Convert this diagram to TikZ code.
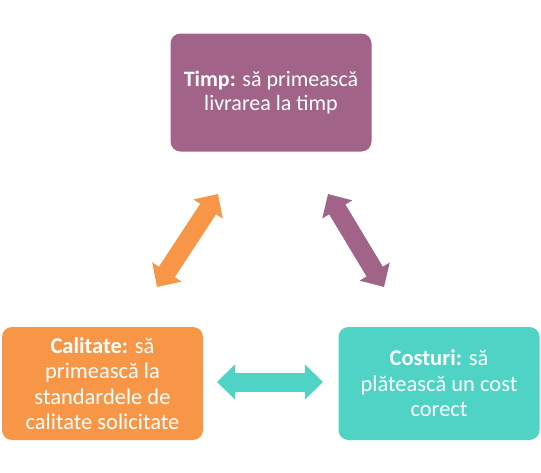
\documentclass[tikz,border=0pt]{standalone}
\usepackage{fontspec}
\setmainfont{Carlito}
\usetikzlibrary{arrows.meta}
\definecolor{cpurple}{HTML}{A16488}
\definecolor{corange}{HTML}{F79646}
\definecolor{cteal}{HTML}{4FD3C5}
\begin{document}
\begin{tikzpicture}[x=1pt,y=-1pt,
  box/.style={rounded corners=10pt, minimum width=201pt, minimum height=118pt,
    text=white, align=center, inner sep=0pt,
    font=\fontsize{22.5}{25.5}\selectfont},
  dbl/.style={line width=19pt, {Triangle[length=18pt,width=34pt]}-{Triangle[length=18pt,width=34pt]}}
]
\useasboundingbox (0,0) rectangle (541,472);
\node[box, fill=cpurple, font=\fontsize{22}{23.5}\selectfont] (timp) at (271,92.5) {\textbf{Timp:} să primească\\livrarea la timp};
\node[box, fill=corange, minimum height=113pt] (cal) at (102.5,383.5) {\textbf{Calitate:} să\\primească la\\standardele de\\calitate solicitate};
\node[box, fill=cteal, minimum height=113pt] (cost) at (439,383.5) {\textbf{Costuri:} să\\plătească un cost\\corect};
\coordinate (oa) at (157,287);
\coordinate (ob) at (218,194);
\coordinate (pa) at (328,194);
\coordinate (pb) at (384,287);
\coordinate (ta) at (217,382);
\coordinate (tb) at (323,382);
\draw[dbl, corange] (oa) -- (ob);
\draw[dbl, cpurple] (pa) -- (pb);
\draw[dbl, cteal] (ta) -- (tb);
\end{tikzpicture}
\end{document}
